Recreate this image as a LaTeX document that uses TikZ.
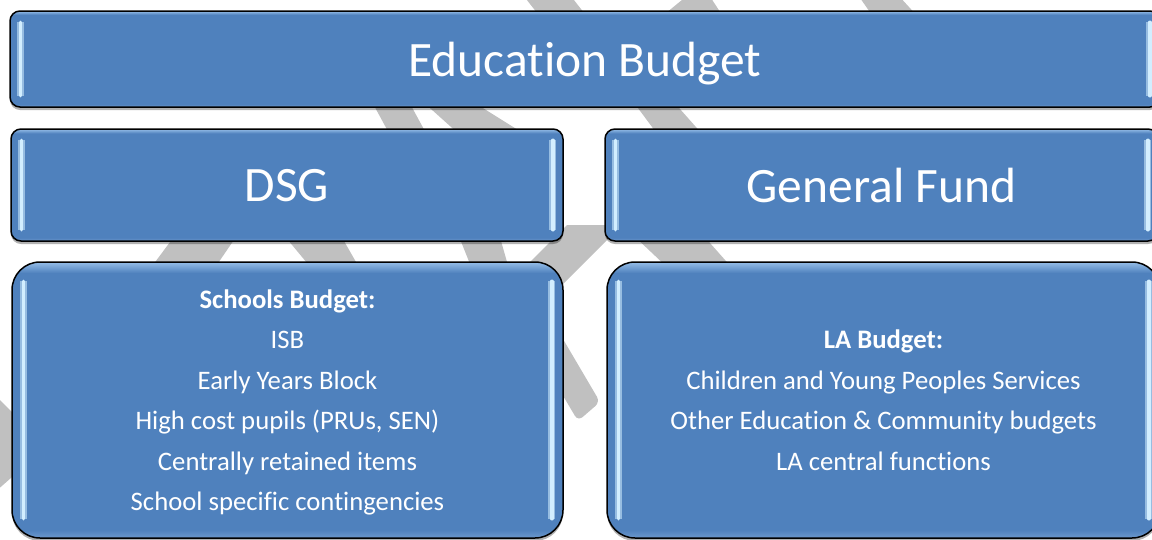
\documentclass[tikz,border=0pt]{standalone}
\usepackage{fontspec}
\setmainfont{Carlito}[Ligatures=NoCommon]
\usetikzlibrary{calc,shadows}

\definecolor{boxblue}{RGB}{79,129,189}
\definecolor{boxtop}{RGB}{150,190,232}
\definecolor{boxfoot}{RGB}{108,152,204}
\definecolor{gleamblue}{RGB}{210,238,255}
\definecolor{wmgray}{RGB}{192,192,192}

\pgfdeclareverticalshading{boxbevel}{100bp}{color(0bp)=(boxfoot); color(25bp)=(boxfoot); color(26.5bp)=(boxblue); color(73bp)=(boxblue); color(75bp)=(boxtop); color(100bp)=(boxtop)}

% light bars along the inner left and right edges of a box
\newcommand{\gleam}[3]{%
  \draw[gleam] ($(#1.north west)+(#2,#3)$) -- ($(#1.south west)+(#2,-#3)$);
  \draw[gleam] ($(#1.north east)+(-#2,#3)$) -- ($(#1.south east)+(-#2,-#3)$);
}

\begin{document}
\begin{tikzpicture}[x=1pt, y=-1pt,
  wmark/.style={fill=wmgray},
  budgetbox/.style={draw=black, line width=1.5pt, rounded corners=10pt, shade, shading=boxbevel,
    text=white, inner sep=0pt, text depth=0pt,
    drop shadow={shadow xshift=0pt, shadow yshift=-3pt, opacity=0.3, fill=black}},
  headbox/.style={budgetbox, font=\fontsize{49.5}{59}\selectfont},
  listbox/.style={budgetbox, rounded corners=28pt, align=center, font=\fontsize{26.7}{40.5}\selectfont},
  gleam/.style={draw=gleamblue, line width=3.5pt, line cap=round,
    preaction={draw=gleamblue!55!boxblue, line width=7pt}}]
\useasboundingbox (0,0) rectangle (1152,539);
\clip (0,0) rectangle (1152,539);
\fill[white] (0,0) rectangle (1152,539);

% Watermark behind the boxes
\fill[wmark] (523,-5) -- (570,-5) -- (588,18) -- (541,18) -- cycle;
\fill[wmark] (688,-5) -- (709,-5) -- (724,18) -- (660,18) -- cycle;
\fill[wmark] (858,-5) -- (898,-5) -- (919,18) -- (874,18) -- cycle;
\fill[wmark] (371,100) -- (408,100) -- (427,135) -- (390,135) -- cycle;
\fill[wmark] (421,100) -- (470,100) -- (526,135) -- (460,135) -- cycle;
\fill[wmark] (632,100) -- (672,100) -- (703,135) -- (658,135) -- cycle;
\fill[wmark] (176,234) -- (238,234) -- (214,269) -- (150,269) -- cycle;
\fill[wmark] (283,234) -- (340,234) -- (360,269) -- (312,269) -- cycle;
\fill[wmark] (458,234) -- (499,234) -- (509,269) -- (472,269) -- cycle;
\fill[wmark] (567,225) -- (622,225) -- (557,290) -- (502,290) -- cycle;
\fill[wmark] (632,234) -- (702,234) -- (733,269) -- (669,269) -- cycle;
\fill[wmark, rounded corners=6pt] (530,283) -- (600,402) -- (578,421) -- (530,340) -- cycle;
\fill[wmark] (-5,395) -- (20,420) -- (20,470) -- (-5,492) -- cycle;

% Top row
\node[headbox, minimum width=1150pt, minimum height=96pt] (edubudget) at (585,59) {Education Budget};

% Second row
\node[headbox, minimum width=552pt, minimum height=112pt] (dsg) at (287,185) {DSG};
\node[headbox, minimum width=553pt, minimum height=112pt] (genfund) at (881.5,185) {General Fund};

% Budget lists
\node[listbox, minimum width=551pt, minimum height=276pt] (schools) at (287.5,400)
  {\textbf{Schools Budget:}\\ISB\\Early Years Block\\High cost pupils (PRUs, SEN)\\Centrally retained items\\School specific contingencies};
\node[listbox, minimum width=553pt, minimum height=276pt] (labudget) at (883.5,400)
  {\textbf{LA Budget:}\\Children and Young Peoples Services\\Other Education \& Community budgets\\LA central functions};

% Highlights
\gleam{edubudget}{11}{12}
\gleam{dsg}{11}{12}
\gleam{genfund}{11}{12}
\gleam{schools}{12}{20}
\gleam{labudget}{12}{20}
\end{tikzpicture}
\end{document}
